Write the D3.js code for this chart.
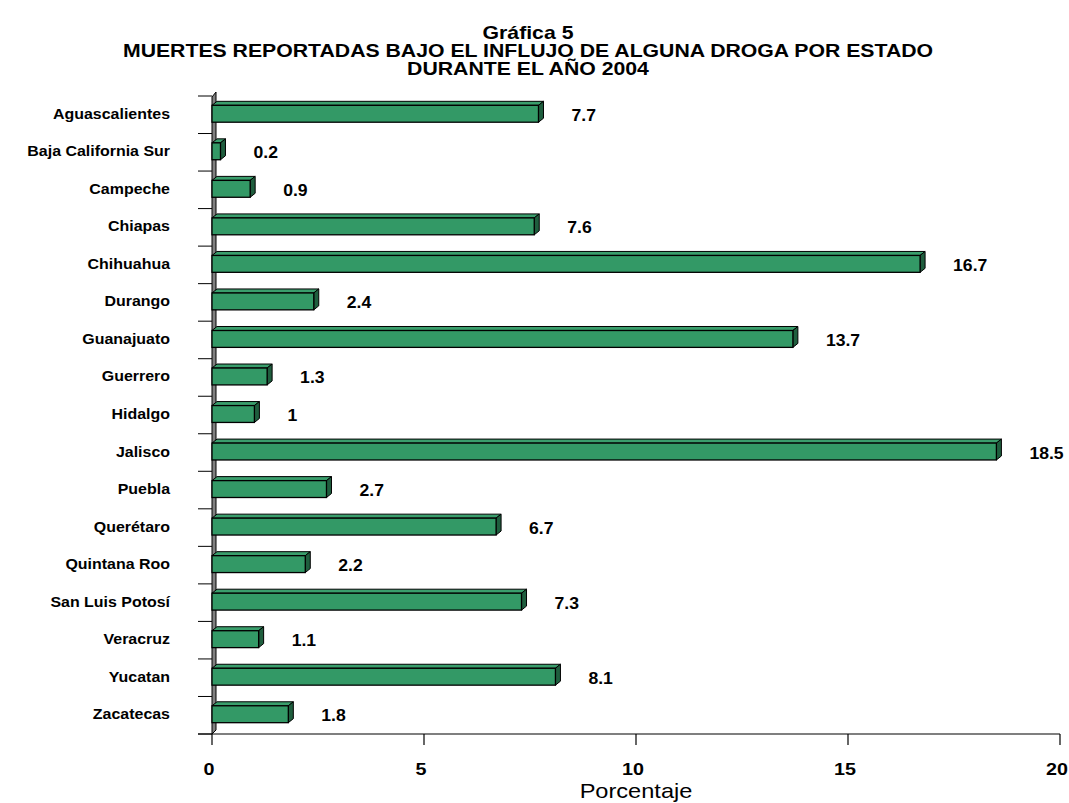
<!DOCTYPE html>
<html>
<head>
<meta charset="utf-8">
<script src="https://cdn.jsdelivr.net/npm/d3@7"></script>
<style>
  body { margin: 0; background: #fff; }
  text { font-family: "Liberation Sans", Arial, sans-serif; fill: #000; }
</style>
</head>
<body>
<div class="canvas chart"></div>
<script>
// data
const estados = ['Aguascalientes', 'Baja California Sur', 'Campeche', 'Chiapas', 'Chihuahua',
  'Durango', 'Guanajuato', 'Guerrero', 'Hidalgo', 'Jalisco', 'Puebla', 'Querétaro',
  'Quintana Roo', 'San Luis Potosí', 'Veracruz', 'Yucatan', 'Zacatecas'];
const porcentajes = [7.7, 0.2, 0.9, 7.6, 16.7, 2.4, 13.7, 1.3, 1, 18.5, 2.7, 6.7, 2.2, 7.3, 1.1, 8.1, 1.8];
const xTicks = [0, 5, 10, 15, 20];
const titleLines = ['Gráfica 5',
  'MUERTES REPORTADAS BAJO EL INFLUJO DE ALGUNA DROGA  POR ESTADO',
  'DURANTE EL AÑO 2004'];
const xTitle = 'Porcentaje';

const width = 1069, height = 803;
const plot = {left: 212, right: 1060, top: 96, bottom: 734};
const depth = {dx: 5, dy: -4};

const data = estados.map((e, i) => ({estado: e, valor: porcentajes[i]}));

const svg = d3.select('.canvas.chart').append('svg')
    .attr('width', width)
    .attr('height', height);

const x = d3.scaleLinear()
    .domain([0, 20])
    .range([plot.left, plot.right]);

const y = d3.scaleBand()
    .domain(estados)
    .range([plot.top, plot.bottom])
    .paddingInner(0.55)
    .paddingOuter(0.275);

// the source picture is stretched sideways, so text is too
const place = (sel, px, py, sx) =>
  sel.attr('transform', `translate(${px},${py}) scale(${sx},1)`);

// title
titleLines.forEach((t, i) => {
  svg.append('text')
      .attr('text-anchor', 'middle')
      .attr('font-size', 18)
      .attr('font-weight', 'bold')
      .text(t)
      .call(place, 528, 39 + i * 18, 1.18);
});

// grey 3d wall behind the category axis
svg.append('path')
    .attr('d', `M${x(0)},${plot.top + 1}L${x(0) + 4},${plot.top - 4}` +
               `L${x(0) + 4},${plot.bottom - 4}L${x(0)},${plot.bottom}Z`)
    .attr('fill', '#808080')
    .attr('stroke', '#000')
    .attr('stroke-width', 1);

// category ticks on band edges
const edges = estados.map(e => y(e) - y.step() * y.paddingOuter());
edges.push(plot.bottom);
svg.append('g').selectAll('line')
    .data(edges)
    .enter().append('line')
    .attr('x1', x(0) - 14).attr('x2', x(0))
    .attr('y1', d => d).attr('y2', d => d)
    .attr('stroke', '#000');

// x axis
svg.append('line')
    .attr('x1', x(0) - 14).attr('x2', x(20))
    .attr('y1', plot.bottom).attr('y2', plot.bottom)
    .attr('stroke', '#000')
    .attr('stroke-width', 1.2);

svg.append('g').selectAll('line')
    .data(xTicks)
    .enter().append('line')
    .attr('x1', d => x(d)).attr('x2', d => x(d))
    .attr('y1', plot.bottom).attr('y2', plot.bottom + 11)
    .attr('stroke', '#000')
    .attr('stroke-width', 1.2);

svg.append('g').selectAll('text')
    .data(xTicks)
    .enter().append('text')
    .attr('text-anchor', 'middle')
    .attr('font-size', 17)
    .attr('font-weight', 'bold')
    .text(d => d)
    .each(function(d) { place(d3.select(this), x(d) - 3, 775, 1.16); });

svg.append('text')
    .attr('text-anchor', 'middle')
    .attr('font-size', 20)
    .text(xTitle)
    .call(place, (x(0) + x(20)) / 2, 798, 1.18);

// bars with a little 3d depth
const bars = svg.append('g').selectAll('g')
    .data(data)
    .enter().append('g');

const by = d => y(d.estado) - 1;
const bh = y.bandwidth();

bars.append('path')
    .attr('d', d => `M${x(0)},${by(d)}L${x(0) + depth.dx},${by(d) + depth.dy}` +
                    `L${x(d.valor) + depth.dx},${by(d) + depth.dy}L${x(d.valor)},${by(d)}Z`)
    .attr('fill', '#3a9e6c')
    .attr('stroke', '#000')
    .attr('stroke-width', 1);

bars.append('path')
    .attr('d', d => `M${x(d.valor)},${by(d)}L${x(d.valor) + depth.dx},${by(d) + depth.dy}` +
                    `L${x(d.valor) + depth.dx},${by(d) + bh + depth.dy}L${x(d.valor)},${by(d) + bh}Z`)
    .attr('fill', '#1f5e3e')
    .attr('stroke', '#000')
    .attr('stroke-width', 1);

bars.append('rect')
    .attr('x', x(0))
    .attr('y', d => by(d))
    .attr('width', d => x(d.valor) - x(0))
    .attr('height', bh)
    .attr('fill', '#339966')
    .attr('stroke', '#000')
    .attr('stroke-width', 1.3);

// value labels
bars.append('text')
    .attr('font-size', 16)
    .attr('font-weight', 'bold')
    .text(d => d.valor)
    .each(function(d) { place(d3.select(this), x(d.valor) + 33, by(d) + bh / 2 + 7, 1.1); });

// category labels
svg.append('g').selectAll('text')
    .data(data)
    .enter().append('text')
    .attr('text-anchor', 'end')
    .attr('font-size', 14)
    .attr('font-weight', 'bold')
    .text(d => d.estado)
    .each(function(d) { place(d3.select(this), 170, y(d.estado) + bh / 2 + 4, 1.14); });
</script>
</body>
</html>
